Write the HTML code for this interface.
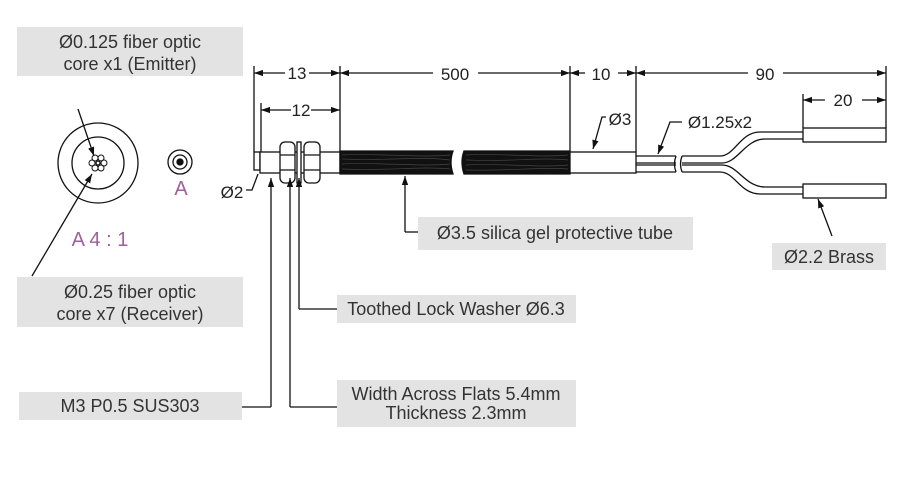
<!DOCTYPE html>
<html><head><meta charset="utf-8"><style>
body{margin:0;background:#fff;}
svg{display:block;font-family:"Liberation Sans","DejaVu Sans",sans-serif;}
.b{fill:#e3e3e3;}
.t{fill:#333;font-size:18px;text-anchor:middle;}
.d{fill:#222;font-size:17px;text-anchor:middle;}
.p{fill:#a0609a;font-size:20px;text-anchor:middle;}
</style></head><body>
<svg width="900" height="491" viewBox="0 0 900 491" xmlns="http://www.w3.org/2000/svg">
<defs>
<marker id="a" viewBox="0 0 10 10" refX="10" refY="5" markerWidth="9" markerHeight="9" orient="auto-start-reverse" markerUnits="userSpaceOnUse"><path d="M0,1.5 L10,5 L0,8.5z" fill="#111"/></marker>
</defs>
<rect class="b" x="17" y="27" width="226" height="49"/>
<text class="t" x="130" y="48">Ø0.125 fiber optic</text>
<text class="t" x="130" y="70">core x1 (Emitter)</text>
<rect class="b" x="17" y="277" width="226" height="50"/>
<text class="t" x="130" y="298">Ø0.25 fiber optic</text>
<text class="t" x="130" y="320">core x7 (Receiver)</text>
<rect class="b" x="19" y="392" width="223" height="28"/>
<text class="t" x="130" y="412">M3 P0.5 SUS303</text>
<rect class="b" x="337" y="295" width="239" height="28"/>
<text class="t" x="456" y="315">Toothed Lock Washer Ø6.3</text>
<rect class="b" x="337" y="380" width="239" height="47"/>
<text class="t" x="456" y="400">Width Across Flats 5.4mm</text>
<text class="t" x="456" y="419">Thickness 2.3mm</text>
<rect class="b" x="418" y="217" width="275" height="33"/>
<text class="t" x="555" y="239">Ø3.5 silica gel protective tube</text>
<rect class="b" x="772" y="243" width="114" height="27"/>
<text class="t" x="829" y="263">Ø2.2 Brass</text>

<g fill="none" stroke="#111" stroke-width="1.3">
<circle cx="98" cy="163" r="40"/>
<circle cx="98" cy="163" r="26"/>
<circle cx="98" cy="163" r="2"/>
<g stroke-width="1">
<circle cx="104" cy="163" r="3"/><circle cx="92" cy="163" r="3"/>
<circle cx="101" cy="158" r="3"/><circle cx="95" cy="158" r="3"/>
<circle cx="101" cy="168" r="3"/><circle cx="95" cy="168" r="3"/>
</g>
<line x1="78" y1="109" x2="94" y2="156" marker-end="url(#a)"/>
<line x1="32" y1="276" x2="92" y2="174" marker-end="url(#a)"/>
<circle cx="180" cy="162" r="12"/>
<circle cx="180" cy="162" r="7"/>
<circle cx="180" cy="162" r="3" fill="#111"/>

<line x1="254" y1="66" x2="254" y2="152"/>
<line x1="340" y1="66" x2="340" y2="152"/>
<line x1="570" y1="66" x2="570" y2="152"/>
<line x1="636" y1="66" x2="636" y2="152"/>
<line x1="886" y1="66" x2="886" y2="128"/>
<line x1="803" y1="94" x2="803" y2="128"/>
<line x1="261" y1="103" x2="261" y2="152"/>
<line x1="254" y1="73" x2="285" y2="73" marker-start="url(#a)"/>
<line x1="309" y1="73" x2="340" y2="73" marker-end="url(#a)"/>
<line x1="340" y1="73" x2="433" y2="73" marker-start="url(#a)"/>
<line x1="478" y1="73" x2="570" y2="73" marker-end="url(#a)"/>
<line x1="570" y1="73" x2="585" y2="73" marker-start="url(#a)"/>
<line x1="618" y1="73" x2="636" y2="73" marker-end="url(#a)"/>
<line x1="636" y1="73" x2="748" y2="73" marker-start="url(#a)"/>
<line x1="783" y1="73" x2="886" y2="73" marker-end="url(#a)"/>
<line x1="261" y1="110" x2="291" y2="110" marker-start="url(#a)"/>
<line x1="311" y1="110" x2="340" y2="110" marker-end="url(#a)"/>
<line x1="803" y1="100" x2="825" y2="100" marker-start="url(#a)"/>
<line x1="862" y1="100" x2="886" y2="100" marker-end="url(#a)"/>

<rect x="254" y="152" width="6" height="18" fill="#fff"/>
<rect x="260" y="152" width="80" height="21" fill="#fff"/>
<rect x="280" y="142" width="15" height="41" rx="5" fill="#fff"/>
<path d="M280,155 H295 M280,170 H295"/>
<rect x="297" y="142" width="4" height="41" fill="#fff"/>
<rect x="304" y="142" width="16" height="41" rx="5" fill="#fff"/>
<path d="M304,155 H320 M304,170 H320"/>
<path d="M340,151 H453 Q449,162 453,174 H340Z M464,151 H570 V174 H464 Q460,162 464,151Z" fill="#111"/>
<g stroke="#444" stroke-width="0.7">
<path d="M342,155 C380,153 420,158 450,155 M342,159 C390,161 420,156 450,160 M342,164 C380,162 420,167 450,164 M342,169 C390,171 420,166 450,169 M466,155 C500,153 540,158 568,155 M466,160 C510,162 540,157 568,160 M466,165 C500,163 540,168 568,165 M466,170 C510,171 540,167 568,169"/>
</g>
<rect x="570" y="152" width="66" height="21" fill="#fff"/>
<path d="M636,156 H676 M636,163 H676 M636,165 H676 M636,172 H676"/>
<path d="M676,156 Q673,164 676,172 M682,156 Q679,164 682,172"/>
<path d="M682,156 H720 C735,156 740,132 760,132 H803"/>
<path d="M682,163 H722 C738,163 745,139 765,139 H803"/>
<path d="M682,165 H722 C738,165 745,187 765,187 H803"/>
<path d="M682,172 H720 C735,172 740,194 760,194 H803"/>
<rect x="803" y="128" width="83" height="14" fill="#fff"/>
<rect x="803" y="184" width="83" height="14" fill="#fff"/>

<path d="M246,190 H252 L258,174"/>
<line x1="271" y1="407" x2="271" y2="178" marker-end="url(#a)"/>
<path d="M242,407 H271"/>
<line x1="290" y1="407" x2="290" y2="178" marker-end="url(#a)"/>
<path d="M290,407 H337"/>
<line x1="299" y1="309" x2="299" y2="178" marker-end="url(#a)"/>
<path d="M299,309 H337"/>
<line x1="405" y1="232" x2="405" y2="176" marker-end="url(#a)"/>
<path d="M405,232 H418"/>
<path d="M606,117 H602 L593,149" marker-end="url(#a)"/>
<path d="M682,122 H670 L658,154" marker-end="url(#a)"/>
<line x1="832" y1="236" x2="818" y2="199" marker-end="url(#a)"/>
</g>

<text class="d" x="297" y="79">13</text>
<text class="d" x="455" y="80">500</text>
<text class="d" x="601" y="80">10</text>
<text class="d" x="765" y="80">90</text>
<text class="d" x="301" y="116">12</text>
<text class="d" x="843" y="106">20</text>
<text class="d" x="620" y="125">Ø3</text>
<text class="d" x="720" y="128">Ø1.25x2</text>
<text class="d" x="232" y="198">Ø2</text>
<text class="p" x="181" y="195">A</text>
<text class="p" x="100" y="246">A 4 : 1</text>
</svg>
</body></html>
